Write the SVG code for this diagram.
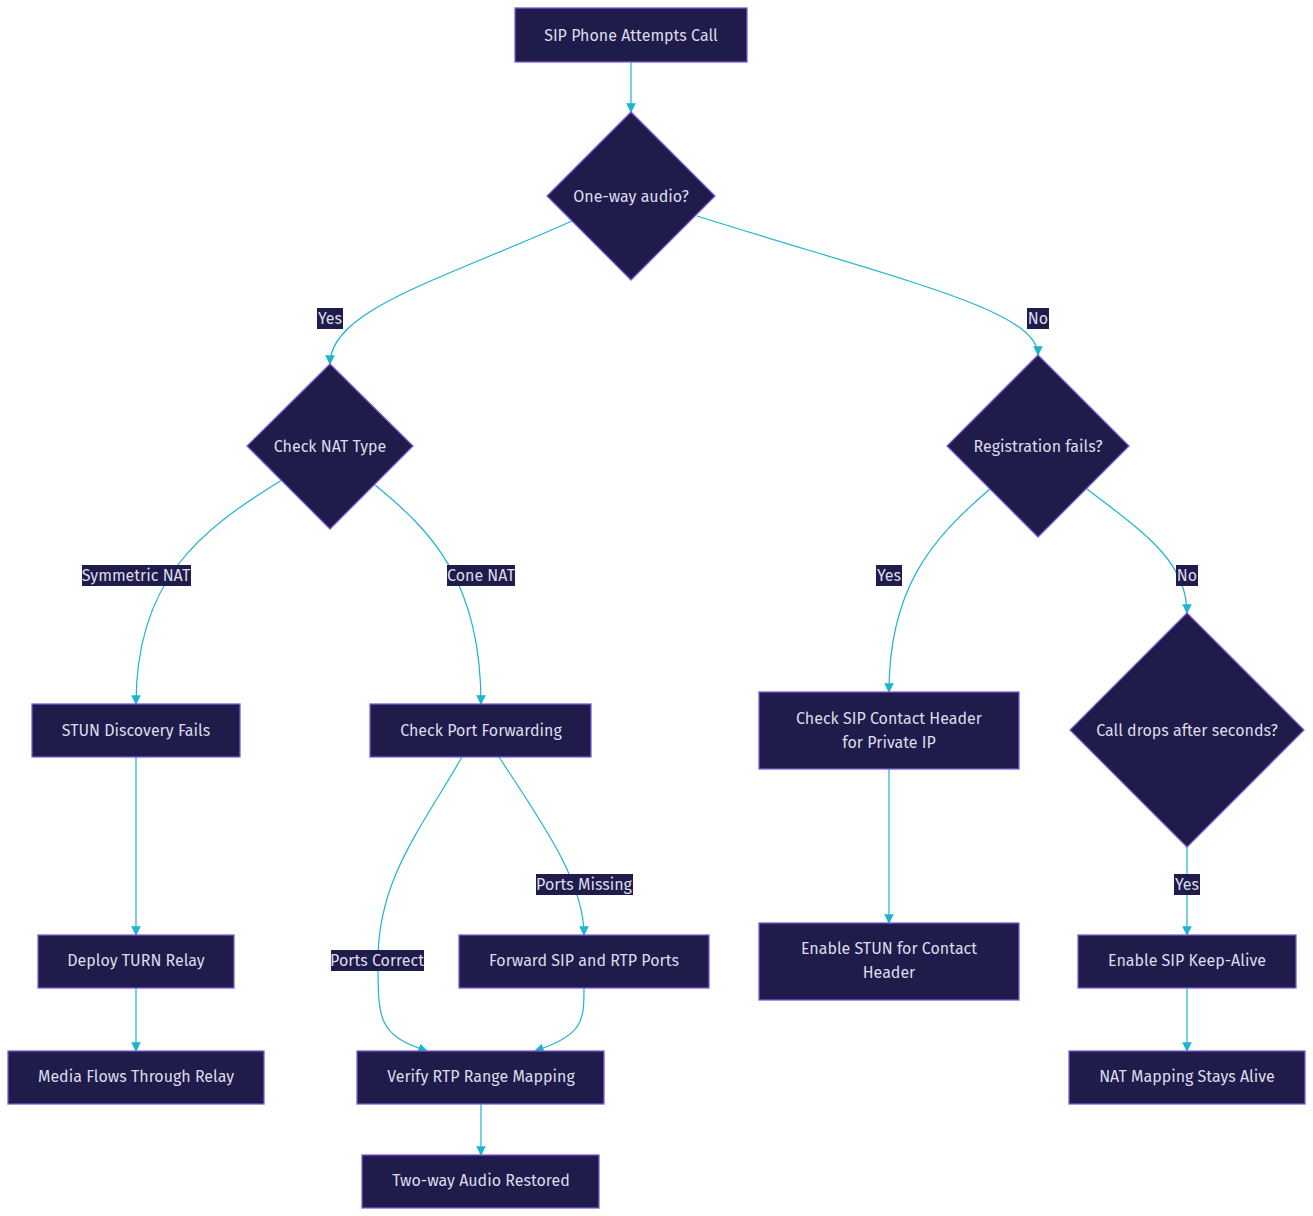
<svg xmlns="http://www.w3.org/2000/svg" width="1313" height="1216" viewBox="0 0 1313 1216">
<style>
.n{fill:#1f1b4a;stroke:#7c5cd6;stroke-width:1.3}
.t{font-family:"Fira Sans","Noto Sans","Liberation Sans",sans-serif;font-size:16px;fill:#dcdcea;text-anchor:middle;dominant-baseline:central}
.e{fill:none;stroke:#1cb5d0;stroke-width:1.2;marker-end:url(#a)}
.lb{fill:#1f1b4a}
</style>
<defs><marker id="a" viewBox="0 0 10 10" refX="9" refY="5" markerWidth="8" markerHeight="8" orient="auto"><path d="M0,0L10,5L0,10z" fill="#1cb5d0"/></marker></defs>
<rect width="1313" height="1216" fill="#fff"/>
<g id="edges">
<path class="e" d="M631,62V112"/>
<path class="e" d="M572,221C440,280 330,310 330,364"/>
<path class="e" d="M697,216C900,280 1038,310 1038,355"/>
<path class="e" d="M282,480C200,530 136,580 136,704"/>
<path class="e" d="M375,485C430,530 481,580 481,704"/>
<path class="e" d="M990,489C930,540 889,590 889,692"/>
<path class="e" d="M1087,489C1140,530 1187,560 1187,613"/>
<path class="e" d="M136,757V935"/>
<path class="e" d="M136,988V1051"/>
<path class="e" d="M462,757C420,830 378,880 378,960C378,1020 378,1035 427,1051"/>
<path class="e" d="M499,757C540,820 584,880 584,935"/>
<path class="e" d="M584,988C584,1020 584,1035 535,1051"/>
<path class="e" d="M481,1104V1155"/>
<path class="e" d="M889,769V923"/>
<path class="e" d="M1187,847V935"/>
<path class="e" d="M1187,988V1051"/>
<rect class="lb" x="317" y="308" width="26" height="21"/><text class="t" x="330" y="318">Yes</text>
<rect class="lb" x="1027" y="308" width="22" height="21"/><text class="t" x="1038" y="318">No</text>
<rect class="lb" x="82" y="565" width="109" height="21"/><text class="t" x="136" y="575">Symmetric NAT</text>
<rect class="lb" x="447" y="565" width="68" height="21"/><text class="t" x="481" y="575">Cone NAT</text>
<rect class="lb" x="876" y="565" width="26" height="21"/><text class="t" x="889" y="575">Yes</text>
<rect class="lb" x="1176" y="565" width="22" height="21"/><text class="t" x="1187" y="575">No</text>
<rect class="lb" x="536" y="874" width="97" height="21"/><text class="t" x="584" y="884">Ports Missing</text>
<rect class="lb" x="331" y="950" width="93" height="21"/><text class="t" x="377" y="960">Ports Correct</text>
<rect class="lb" x="1174" y="874" width="26" height="21"/><text class="t" x="1187" y="884">Yes</text>
</g>
<g id="n1"><rect class="n" x="515" y="8" width="232" height="54"/><text class="t" x="631" y="35">SIP Phone Attempts Call</text></g>
<g id="n2"><path class="n" d="M631,112L715,196L631,280L547,196z"/><text class="t" x="631" y="196">One-way audio?</text></g>
<g id="n3"><path class="n" d="M330,364L413,446L330,529L247,446z"/><text class="t" x="330" y="446">Check NAT Type</text></g>
<g id="n4"><path class="n" d="M1038,355L1129,446L1038,537L947,446z"/><text class="t" x="1038" y="446">Registration fails?</text></g>
<g id="n5"><rect class="n" x="32" y="704" width="208" height="53"/><text class="t" x="136" y="730">STUN Discovery Fails</text></g>
<g id="n6"><rect class="n" x="370" y="704" width="221" height="53"/><text class="t" x="481" y="730">Check Port Forwarding</text></g>
<g id="n7"><rect class="n" x="759" y="692" width="260" height="77"/><text class="t" x="889" y="718">Check SIP Contact Header</text><text class="t" x="889" y="742">for Private IP</text></g>
<g id="n8"><path class="n" d="M1187,613L1304,730L1187,847L1070,730z"/><text class="t" x="1187" y="730">Call drops after seconds?</text></g>
<g id="n9"><rect class="n" x="38" y="935" width="196" height="53"/><text class="t" x="136" y="960">Deploy TURN Relay</text></g>
<g id="n10"><rect class="n" x="459" y="935" width="250" height="53"/><text class="t" x="584" y="960">Forward SIP and RTP Ports</text></g>
<g id="n11"><rect class="n" x="759" y="923" width="260" height="77"/><text class="t" x="889" y="948">Enable STUN for Contact</text><text class="t" x="889" y="972">Header</text></g>
<g id="n12"><rect class="n" x="1078" y="935" width="218" height="53"/><text class="t" x="1187" y="960">Enable SIP Keep-Alive</text></g>
<g id="n13"><rect class="n" x="8" y="1051" width="256" height="53"/><text class="t" x="136" y="1076">Media Flows Through Relay</text></g>
<g id="n14"><rect class="n" x="357" y="1051" width="247" height="53"/><text class="t" x="481" y="1076">Verify RTP Range Mapping</text></g>
<g id="n15"><rect class="n" x="1069" y="1051" width="236" height="53"/><text class="t" x="1187" y="1076">NAT Mapping Stays Alive</text></g>
<g id="n16"><rect class="n" x="362" y="1155" width="237" height="53"/><text class="t" x="481" y="1180">Two-way Audio Restored</text></g>
</svg>
